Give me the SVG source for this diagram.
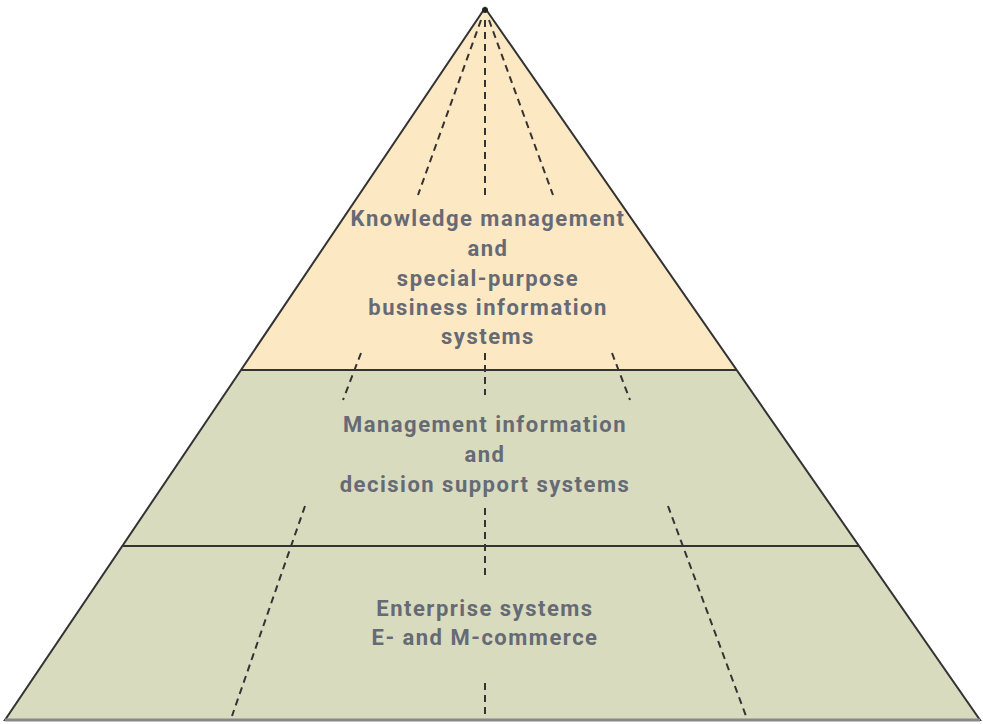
<svg xmlns="http://www.w3.org/2000/svg" width="983" height="724" viewBox="0 0 983 724">
<style>
.edge{stroke:#333;stroke-width:2;fill:none}
.dash{stroke:#333;stroke-width:2;stroke-dasharray:7 5;fill:none}
.lbl{font-family:"Roboto","Liberation Sans",sans-serif;font-weight:bold;font-size:22px;letter-spacing:1.5px;fill:#666a74;text-anchor:middle}
</style>
<rect width="983" height="724" fill="#ffffff"/>
<g id="layer-top">
<polygon points="485,8 241,370 737,370" fill="#fde8c4"/>
<text class="lbl" x="488" y="226">Knowledge management</text>
<text class="lbl" x="488" y="256">and</text>
<text class="lbl" x="488" y="286">special-purpose</text>
<text class="lbl" x="488" y="315">business information</text>
<text class="lbl" x="488" y="344">systems</text>
</g>
<g id="layer-middle">
<polygon points="241,370 737,370 859,546 122,546" fill="#d9dbbf"/>
<text class="lbl" x="485" y="432">Management information</text>
<text class="lbl" x="485" y="462">and</text>
<text class="lbl" x="485" y="492">decision support systems</text>
</g>
<g id="layer-bottom">
<polygon points="122,546 859,546 980,720 5,720" fill="#d9dbbf"/>
<text class="lbl" x="485" y="616">Enterprise systems</text>
<text class="lbl" x="485" y="645">E- and M-commerce</text>
</g>
<g id="connectors">
<line class="dash" x1="481" y1="20" x2="418" y2="195"/>
<line class="dash" x1="485" y1="20" x2="485" y2="195"/>
<line class="dash" x1="489" y1="20" x2="553" y2="195"/>
<line class="dash" x1="361" y1="353" x2="343" y2="400"/>
<line class="dash" x1="485" y1="353" x2="485" y2="395"/>
<line class="dash" x1="612" y1="353" x2="630" y2="400"/>
<line class="dash" x1="305" y1="506" x2="232" y2="716"/>
<line class="dash" x1="485" y1="508" x2="485" y2="576"/>
<line class="dash" x1="485" y1="683" x2="485" y2="720"/>
<line class="dash" x1="668" y1="506" x2="746" y2="716"/>
</g>
<g id="outline">
<polygon class="edge" points="485,8 980,720 5,720"/>
<line class="edge" x1="241" y1="370" x2="737" y2="370"/>
<line class="edge" x1="122" y1="546" x2="859" y2="546"/>
<line x1="5" y1="720" x2="980" y2="720" stroke="#888" stroke-width="3"/>
<circle cx="485" cy="10" r="3" fill="#222"/>
</g>
</svg>
